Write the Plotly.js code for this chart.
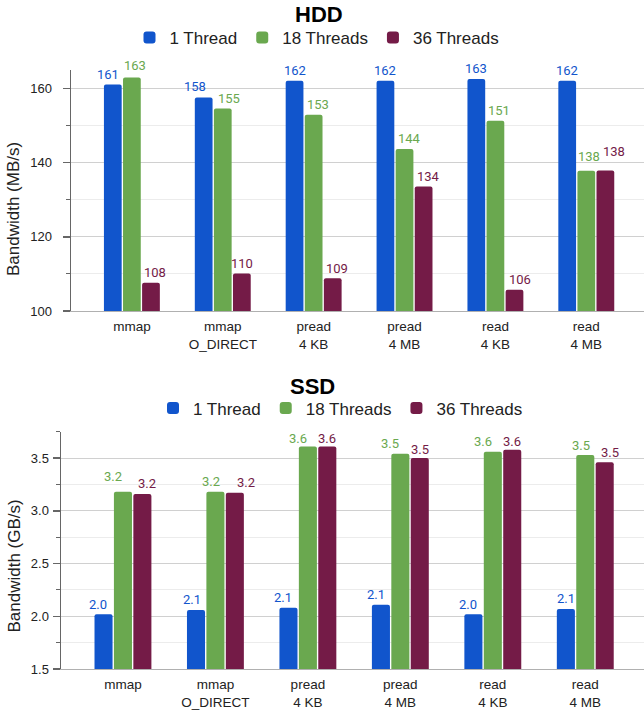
<!DOCTYPE html>
<html>
<head>
<meta charset="utf-8">
<script src="https://cdn.plot.ly/plotly-3.0.1.min.js"></script>
<style>html,body{margin:0;padding:0;background:#fff;}#chart{width:644px;height:713px;}</style>
</head>
<body>
<div id="chart"></div>
<script>
// ---- data ----
const categories = ["mmap", "mmap<br>O_DIRECT", "pread<br>4 KB", "pread<br>4 MB", "read<br>4 KB", "read<br>4 MB"];
const seriesNames = ["1 Thread", "18 Threads", "36 Threads"];
const hdd1Thread = [161.1, 157.6, 162.1, 162.1, 162.6, 162.1];
const hdd18Threads = [163.0, 154.6, 152.9, 143.7, 151.3, 137.8];
const hdd36Threads = [107.6, 110.1, 108.8, 133.6, 105.7, 137.9];
const ssd1Thread = [2.02, 2.06, 2.08, 2.11, 2.02, 2.07];
const ssd18Threads = [3.18, 3.18, 3.61, 3.54, 3.56, 3.53];
const ssd36Threads = [3.16, 3.17, 3.61, 3.50, 3.58, 3.46];
const hddTickVals = [100, 120, 140, 160];
const ssdTickVals = [1.5, 2.0, 2.5, 3.0, 3.5];

// ---- styling ----
const colors = ["#1155cc", "#6aa84f", "#741b47"];
const W = 644, H = 713;
const px = v => v / W;
const py = v => 1 - v / H;
const XRANGE = [-0.67, 5.635];
const BARGAP = 0.37;
const hddLeft = 71, ssdLeft = 61;

// value-label nudges in px (horizontal) and gap above bar (vertical), as the source spreads them apart
const hddNudgeX = [[-5, -9, 0, 0, 0, 0], [3.5, 6, 4.5, 5, 4, 3], [4, 0, 4, 5, 5.5, 9]];
const ssdNudgeX = [[-6, -4, -5, -5, -5, 0], [-10, -4, -9.5, -10, -9.5, -4.5], [5, 11, 0, 0, 0, 5.5]];
const hddGap = [[5, 6, 5, 5, 5, 5], [7, 5, 5, 5, 5, 9], [5, 5, 5, 5, 5, 14]];
const ssdGap = [[5, 5, 5, 5, 5, 5], [10.5, 5, 3, 5, 5, 4], [5.5, 5, 3, 4, 3.5, 4.5]];

function mk(name, ys, i, xa, ya, legend) {
  return {
    type: "bar", name: name, x: categories, y: ys,
    xaxis: xa, yaxis: ya, legend: legend,
    marker: { color: colors[i], cornerradius: 2, line: { width: 0 } },
    textposition: "none", hoverinfo: "x+y"
  };
}

const hddSeries = [hdd1Thread, hdd18Threads, hdd36Threads];
const ssdSeries = [ssd1Thread, ssd18Threads, ssd36Threads];

const data = [];
hddSeries.forEach((ys, i) => data.push(mk(seriesNames[i], ys, i, "x", "y", "legend")));
ssdSeries.forEach((ys, i) => data.push(mk(seriesNames[i], ys, i, "x2", "y2", "legend2")));

// value labels anchored at each bar's data value
function labels(series, xref, yref, leftPx, digits, nudgeX, gap) {
  const catPx = (W - leftPx) / (XRANGE[1] - XRANGE[0]);
  const slot = (1 - BARGAP) * catPx / 3;
  const out = [];
  series.forEach((ys, i) => {
    ys.forEach((v, k) => {
      out.push({
        xref: xref, yref: yref, x: categories[k], y: v,
        text: v.toFixed(digits), showarrow: false,
        xanchor: "center", yanchor: "bottom",
        xshift: (i - 1) * slot + nudgeX[i][k], yshift: gap[i][k] - 3.5,
        borderpad: 0,
        font: { family: "Roboto, Arial, sans-serif", size: 13, color: colors[i] }
      });
    });
  });
  return out;
}

const tickFont = { family: "Liberation Sans, Arial, sans-serif", size: 13, color: "#222" };
function xax(domain, anchor) {
  return {
    domain: domain, anchor: anchor, type: "category",
    range: XRANGE, fixedrange: true,
    showgrid: false, showline: true, linecolor: "#b0b0b0", linewidth: 1,
    ticks: "", tickfont: { family: "Liberation Sans, Arial, sans-serif", size: 13.5, color: "#222" },
    ticklabelstandoff: 3
  };
}
function yax(domain, anchor, range, tickvals, minorDtick, fmt, standoff) {
  return {
    domain: domain, anchor: anchor, range: range, fixedrange: true,
    tickvals: tickvals, tickformat: fmt,
    showgrid: true, gridcolor: "#d0d0d0", gridwidth: 1,
    zeroline: false, showline: true, linecolor: "#666", linewidth: 1.5,
    ticks: "outside", ticklen: 7, tickcolor: "#666", tickwidth: 1.5,
    tickfont: tickFont, ticklabelstandoff: standoff,
    minor: { dtick: minorDtick, showgrid: true, gridcolor: "#ececec", ticks: "outside", ticklen: 4, tickcolor: "#666", tickwidth: 1 }
  };
}

const legendFont = { family: "Liberation Sans, Arial, sans-serif", size: 17, color: "#222" };

const annotations = [
  { text: "<b>HDD</b>", xref: "paper", yref: "paper", x: px(318.5), y: py(15), xanchor: "center", yanchor: "middle", showarrow: false,
    font: { family: "Liberation Sans, Arial, sans-serif", size: 22, color: "#000" } },
  { text: "<b>SSD</b>", xref: "paper", yref: "paper", x: px(312.5), y: py(386.7), xanchor: "center", yanchor: "middle", showarrow: false,
    font: { family: "Liberation Sans, Arial, sans-serif", size: 22, color: "#000" } },
  { text: "Bandwidth (MB/s)", textangle: -90, xref: "paper", yref: "paper", x: px(13.5), y: py(209.5), xanchor: "center", yanchor: "middle", showarrow: false,
    font: { family: "Liberation Sans, Arial, sans-serif", size: 17, color: "#222" } },
  { text: "Bandwidth (GB/s)", textangle: -90, xref: "paper", yref: "paper", x: px(13.5), y: py(566), xanchor: "center", yanchor: "middle", showarrow: false,
    font: { family: "Liberation Sans, Arial, sans-serif", size: 17, color: "#222" } }
].concat(
  labels(hddSeries, "x", "y", hddLeft, 0, hddNudgeX, hddGap),
  labels(ssdSeries, "x2", "y2", ssdLeft, 1, ssdNudgeX, ssdGap)
);

const layout = {
  width: W, height: H,
  margin: { l: 0, r: 0, t: 0, b: 0 },
  paper_bgcolor: "#fff", plot_bgcolor: "#fff",
  barmode: "group", bargap: BARGAP, bargroupgap: 0.07,
  font: { family: "Liberation Sans, Arial, sans-serif", color: "#222" },
  xaxis: xax([px(hddLeft), 1], "y"),
  yaxis: yax([py(311), py(70)], "x", [100, 165], hddTickVals, 10, "d", 8),
  xaxis2: xax([px(ssdLeft), 1], "y2"),
  yaxis2: yax([py(669), py(431.7)], "x2", [1.5, 3.75], ssdTickVals, 0.25, ".1f", 1),
  legend: {
    orientation: "h", x: px(317), xanchor: "center", y: py(38), yanchor: "middle",
    font: legendFont, bgcolor: "rgba(0,0,0,0)", itemclick: false, itemdoubleclick: false
  },
  legend2: {
    orientation: "h", x: px(340.5), xanchor: "center", y: py(408.5), yanchor: "middle",
    font: legendFont, bgcolor: "rgba(0,0,0,0)", itemclick: false, itemdoubleclick: false
  },
  annotations: annotations,
  showlegend: true
};

Plotly.newPlot("chart", data, layout, { displayModeBar: false, staticPlot: true });
</script>
</body>
</html>
